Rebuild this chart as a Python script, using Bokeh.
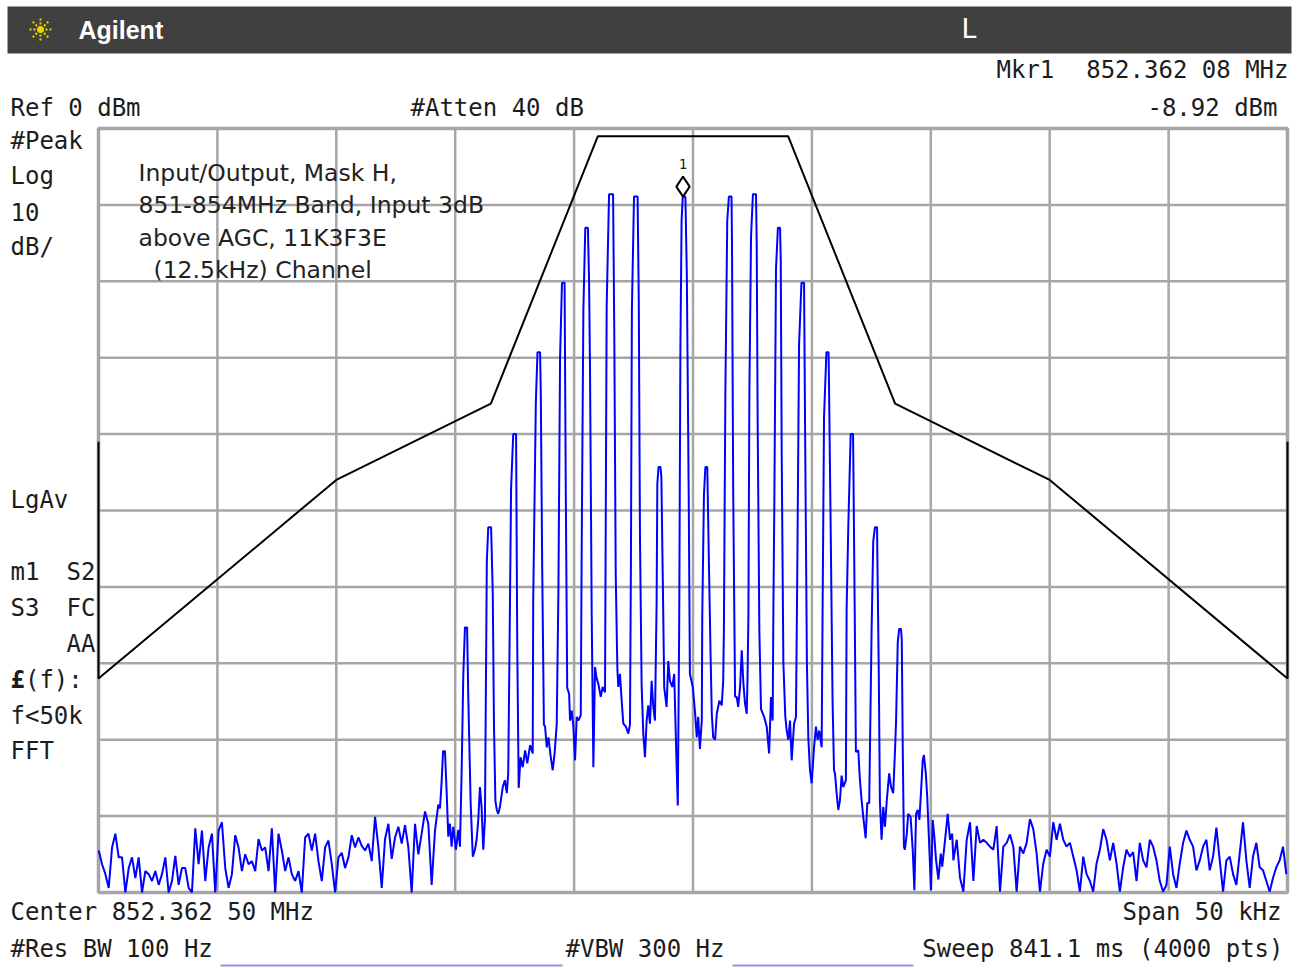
import numpy as np
from bokeh.plotting import figure
from bokeh.models import Range1d, Label
from bokeh.embed import file_html
from bokeh.resources import INLINE

# ------------------------------------------------------------------ data
center_mhz = 852.3625
span_khz = 50
marker_khz = -0.42
marker_dbm = -8.92

grid_khz = [-25, -20, -15, -10, -5, 0, 5, 10, 15, 20, 25]
grid_dbm = [0, -10, -20, -30, -40, -50, -60, -70, -80, -90, -100]

mask_khz = [-25, -25, -15, -8.5, -4, 4, 8.5, 15, 25, 25]
mask_dbm = [-41, -72, -46, -36, -1, -1, -36, -46, -72, -41]

noise_step_khz = 0.14
noise_left_start_khz = -24.99
noise_left_dbm = [
    -94.5, -96.3, -97.6, -99.4, -94.1, -92.3, -95.4, -95.4, -100, -96.8,
    -95.4, -98.1, -95.4, -100, -97.2, -97.6, -98.5, -97.2, -99.0, -97.6,
    -95.4, -100, -98.5, -95.2, -99.0, -96.8, -96.8, -99.4, -100, -91.6,
    -96.3, -91.9, -98.5, -94.1, -92.3, -100, -91.9, -90.8, -96.8, -99.4,
    -97.6, -92.5, -94.1, -97.2, -95.0, -96.3, -95.9, -97.2, -93.0, -94.5,
    -94.1, -97.2, -91.6, -100, -92.3, -94.5, -97.2, -95.4, -97.6, -98.5,
    -97.2, -100, -92.8, -92.3, -94.5, -92.3, -95.9, -98.5, -94.1, -93.2,
    -96.3, -100, -95.4, -94.8, -96.8, -95.4, -92.5, -94.1, -92.8, -93.9,
    -94.5, -93.6, -95.9, -90.1, -94.1, -99.4, -93.0, -91.0, -95.6, -92.8,
    -91.4, -93.6, -91.2, -94.1, -100, -91.0, -95.0, -92.3, -89.4, -91.0,
    -99.0, -91.9, -88.5]

core_khz = [
    -10.64, -10.58, -10.51, -10.43, -10.37, -10.29, -10.22, -10.15, -10.08, -9.97,
    -9.87, -9.80, -9.73, -9.66, -9.59, -9.50, -9.45, -9.35, -9.26, -9.17,
    -9.10, -9.03, -8.96, -8.89, -8.82, -8.75, -8.67, -8.61, -8.49, -8.42,
    -8.37, -8.31, -8.25, -8.19, -8.12, -8.00, -7.91, -7.83, -7.77, -7.72,
    -7.65, -7.56, -7.44, -7.39, -7.33, -7.25, -7.16, -7.06, -6.97, -6.85,
    -6.74, -6.72, -6.61, -6.54, -6.43, -6.40, -6.34, -6.27, -6.22, -6.15,
    -6.08, -5.98, -5.90, -5.82, -5.73, -5.66, -5.59, -5.51, -5.40, -5.35,
    -5.29, -5.21, -5.17, -5.10, -5.03, -4.96, -4.89, -4.82, -4.72, -4.68,
    -4.61, -4.53, -4.42, -4.37, -4.33, -4.26, -4.19, -4.12, -4.05, -3.98,
    -3.88, -3.80, -3.70, -3.63, -3.53, -3.36, -3.31, -3.25, -3.18, -3.14,
    -3.07, -3.00, -2.93, -2.82, -2.72, -2.65, -2.61, -2.57, -2.48, -2.33,
    -2.28, -2.23, -2.16, -2.09, -2.02, -1.95, -1.88, -1.81, -1.74, -1.67,
    -1.60, -1.53, -1.50, -1.45, -1.37, -1.33, -1.27, -1.21, -1.11, -1.04,
    -0.97, -0.87, -0.79, -0.71, -0.64, -0.58, -0.53, -0.48, -0.43, -0.32,
    -0.26, -0.18, -0.13, -0.01, 0.08, 0.16, 0.22, 0.29, 0.37, 0.39,
    0.46, 0.52, 0.60, 0.66, 0.74, 0.79, 0.85, 0.93, 1.00, 1.11,
    1.21, 1.27, 1.30, 1.36, 1.44, 1.51, 1.62, 1.64, 1.69, 1.77,
    1.84, 1.90, 1.98, 2.05, 2.12, 2.19, 2.26, 2.29, 2.33, 2.37,
    2.44, 2.52, 2.65, 2.68, 2.72, 2.79, 2.86, 2.99, 3.10, 3.20,
    3.28, 3.35, 3.38, 3.42, 3.49, 3.57, 3.66, 3.69, 3.73, 3.80,
    3.88, 3.94, 4.01, 4.08, 4.15, 4.25, 4.33, 4.39, 4.46, 4.56,
    4.67, 4.72, 4.79, 4.85, 4.92, 4.99, 5.09, 5.17, 5.24, 5.31,
    5.41, 5.45, 5.51, 5.61, 5.70, 5.72, 5.79, 5.87, 5.93, 5.97,
    6.04, 6.11, 6.18, 6.25, 6.32, 6.43, 6.46, 6.53, 6.63, 6.73,
    6.74, 6.80, 6.85, 6.95, 7.02, 7.09, 7.16, 7.26, 7.33, 7.41,
    7.51, 7.58, 7.65, 7.74, 7.75, 7.81, 7.86, 7.93, 8.00, 8.07,
    8.15, 8.25, 8.33, 8.42, 8.49, 8.54, 8.61, 8.67, 8.75, 8.78,
    8.82, 8.87, 8.91, 8.99, 9.05, 9.15, 9.24, 9.31, 9.38, 9.45,
    9.52, 9.60, 9.66, 9.71, 9.79, 9.85, 9.94, 10.01, 10.08, 10.15,
    10.22, 10.32, 10.42, 10.48, 10.60, 10.71, 10.81, 10.90]
core_dbm = [
    -89, -86, -81.5, -81.5, -86, -92.7, -91, -94, -91.4, -94.4,
    -91.8, -94, -84.4, -71.6, -65.3, -65.3, -74.4, -88.3, -95.3, -94.4,
    -93.1, -90.5, -86.2, -88.8, -94.4, -90.5, -56.7, -52.2, -52.2, -60.9,
    -78, -88, -89.2, -89.7, -88.8, -86.2, -85.3, -87, -84.4, -69.3,
    -47.1, -40, -40, -68, -86.3, -82.3, -83.6, -81.4, -83.1, -80.7,
    -81.8, -62, -36, -29.3, -29.3, -34.9, -57.9, -78, -78.3, -81,
    -79.7, -82.3, -84, -81.8, -77.9, -60.6, -30, -20.2, -20.2, -47.4,
    -73.2, -74, -77.5, -76.2, -78.3, -82.7, -77, -77.5, -76.8, -54.6,
    -23.8, -13, -13, -20, -31.9, -63.6, -83.6, -70.5, -72, -72.7,
    -74.4, -73.1, -73.8, -23.2, -8.6, -8.6, -26.8, -58.2, -70.8, -73.1,
    -71.4, -74.9, -77.9, -78.3, -79.2, -78, -56.4, -23.8, -8.9, -8.9,
    -22.6, -53.4, -72.9, -79.2, -82.3, -77.5, -75.5, -77.9, -72.3, -75.7,
    -77.5, -62.1, -46.5, -44.3, -44.3, -45.6, -59.1, -73.2, -75.7, -69.7,
    -72.3, -73.1, -71.4, -81, -88.6, -65, -29, -12, -8.92, -8.92,
    -19, -48, -71.4, -73.1, -76.2, -79.7, -77, -81.2, -77.5, -63.6,
    -48, -44.3, -44.3, -55.2, -69, -76.6, -79.7, -80, -76.6, -74.9,
    -75.5, -72.3, -65.4, -35.1, -12.1, -8.9, -8.9, -15.1, -47.4, -74.4,
    -74.4, -75.7, -73.1, -68.3, -72.7, -75.3, -76.6, -72.3, -63.9, -35.1,
    -14.2, -8.6, -8.6, -15.4, -38.7, -65.7, -76, -77, -78.3, -81.8,
    -74.4, -77.5, -63, -49.2, -18.4, -13, -13, -17.2, -42.6, -69.9,
    -76.9, -78.8, -80, -77.5, -82.7, -77.9, -77, -56.4, -28.3, -20.2,
    -20.2, -42, -69.9, -79.8, -84, -85.7, -81, -78.3, -80, -78.8,
    -81, -63, -37.8, -29.3, -29.3, -33.7, -52.5, -75, -84, -84.4,
    -87, -89.2, -87.9, -84.7, -86.2, -85.3, -63, -52.2, -40, -40,
    -42.6, -63, -81.6, -81.4, -85.3, -87.9, -90.1, -92.9, -88.3, -88.3,
    -65.7, -54, -52.2, -52.2, -55.2, -70.5, -88.1, -93.1, -88.8, -91.4,
    -87.9, -84.4, -86.2, -87, -81.8, -77.5, -67.3, -65.5, -65.5, -67,
    -81, -94, -94.4, -92.3, -89.7, -90.1, -94.4, -99.7, -89.7, -89.2,
    -90.5, -86.2, -82.7, -82, -84.4, -87.5, -94.4, -99.7, -90.5, -92.7,
    -95.7, -98.3, -94.9, -96.6, -93.1, -89.7, -93.1, -92.3]

noise_right_start_khz = 10.95
noise_right_dbm = [
    -95.8, -93.1, -98.1, -99.9, -93.1, -90.8, -98.5, -91.3, -93.5, -93.1,
    -93.5, -94.0, -94.4, -91.3, -99.9, -94.0, -93.5, -92.4, -94.0, -99.9,
    -94.0, -94.9, -93.5, -90.4, -91.7, -94.9, -99.9, -96.2, -94.4, -95.3,
    -90.8, -93.1, -91.0, -93.1, -94.0, -93.5, -95.3, -97.1, -99.9, -95.3,
    -97.6, -98.5, -99.9, -96.2, -94.4, -91.7, -93.1, -95.8, -93.5, -96.2,
    -99.9, -96.7, -94.4, -95.3, -94.7, -98.5, -93.5, -95.8, -96.7, -93.1,
    -94.0, -95.8, -98.5, -99.9, -99.0, -94.0, -97.6, -99.4, -96.2, -93.5,
    -91.9, -93.1, -94.0, -97.1, -95.8, -94.0, -93.1, -97.1, -95.3, -91.5,
    -95.8, -99.9, -95.8, -95.3, -97.6, -99.0, -94.9, -90.8, -95.8, -99.4,
    -95.3, -93.5, -96.7, -97.1, -98.5, -99.9, -98.1, -96.7, -95.8, -94.0,
    -97.6]

assert len(core_khz) == len(core_dbm)

left_khz = noise_left_start_khz + noise_step_khz * np.arange(len(noise_left_dbm))
right_khz = noise_right_start_khz + noise_step_khz * np.arange(len(noise_right_dbm))
trace_khz = np.concatenate([left_khz, core_khz, right_khz])
trace_dbm = np.concatenate([noise_left_dbm, core_dbm, noise_right_dbm])

# ------------------------------------------------------------------ layout
W, H = 1299, 968
LEFT_PX, TOP_PX = 98, 128
PX_PER_KHZ = 1189 / 50.0
PX_PER_DB = 764 / 100.0
x_start = -25 - LEFT_PX / PX_PER_KHZ
x_end = x_start + W / PX_PER_KHZ
y_end = TOP_PX / PX_PER_DB
y_start = y_end - H / PX_PER_DB


def X(px):
    return x_start + px / PX_PER_KHZ


def Y(py):
    return y_end - py / PX_PER_DB


p = figure(width=W, height=H, x_range=Range1d(x_start, x_end),
           y_range=Range1d(y_start, y_end), output_backend="svg",
           toolbar_location=None, x_axis_location=None, y_axis_location=None,
           min_border=0, outline_line_color=None,
           background_fill_color="white", border_fill_color="white")
p.xgrid.visible = False
p.ygrid.visible = False

GRID = "#a6a6a6"
p.multi_line([[k, k] for k in grid_khz[1:-1]],
             [[grid_dbm[0], grid_dbm[-1]]] * (len(grid_khz) - 2),
             line_color=GRID, line_width=2.5)
p.multi_line([[grid_khz[0], grid_khz[-1]]] * (len(grid_dbm) - 2),
             [[d, d] for d in grid_dbm[1:-1]],
             line_color=GRID, line_width=2.5)
p.quad(left=grid_khz[0], right=grid_khz[-1], top=grid_dbm[0], bottom=grid_dbm[-1],
       fill_color=None, line_color=GRID, line_width=3.5)

# header bar
p.quad(left=X(7), right=X(1291), top=Y(6), bottom=Y(53),
       fill_color="#404040", line_color=None)
p.scatter([X(40)], [Y(29)], marker="asterisk", size=22,
          line_color="#e8d400", line_width=2, line_dash="2 2")
p.scatter([X(40)], [Y(29)], marker="circle", size=7,
          fill_color="#e8d400", line_color=None)


def lab(px, py, text, size=24, align="left", color="#1c1c1c",
        font="DejaVu Sans Mono", style="normal"):
    p.add_layout(Label(x=X(px), y=Y(py), text=text, text_align=align,
                       text_baseline="middle", text_color=color,
                       text_font=font, text_font_size=f"{size}px",
                       text_font_style=style))


lab(78, 29, "Agilent", size=25, color="white", font="Liberation Sans", style="bold")
lab(969, 28, "L", size=27, color="white", align="center")

lab(996, 69, "Mkr1")
lab(1288, 69, "852.362 08 MHz", align="right")
lab(10, 107, "Ref 0 dBm")
lab(410, 107, "#Atten 40 dB")
lab(1277, 107, "-8.92 dBm", align="right")

for py, t in [(140, "#Peak"), (175, "Log"), (211, "10"), (246, "dB/"),
              (499, "LgAv"), (571, "m1"), (607, "S3"),
              (715, "f<50k"), (750, "FFT")]:
    lab(10, py, t)
lab(95, 571, "S2", align="right")
lab(95, 607, "FC", align="right")
lab(95, 643, "AA", align="right")
lab(10, 679, "£", style="bold")
lab(10 + 14.45, 679, "(f):")

lab(10, 911, "Center 852.362 50 MHz")
lab(1281, 911, "Span 50 kHz", align="right")
lab(10, 948, "#Res BW 100 Hz")
lab(565, 948, "#VBW 300 Hz")
lab(1283, 948, "Sweep 841.1 ms (4000 pts)", align="right")
p.multi_line([[X(220), X(562)], [X(732), X(913)]], [[Y(965), Y(965)]] * 2,
             line_color="#9c8ee6", line_width=2)

# annotation block
ann = ["Input/Output, Mask H,", "851-854MHz Band, Input 3dB",
       "above AGC, 11K3F3E", "(12.5kHz) Channel"]
for (px, py), t in zip([(138, 172), (138, 204), (138, 237), (153, 269)], ann):
    lab(px, py, t, size=23.5, color="#222222", font="DejaVu Sans")

# mask & trace
p.line(mask_khz, mask_dbm, line_color="black", line_width=2)
p.line(trace_khz, trace_dbm, line_color="#0000ff", line_width=2)

# marker
p.scatter([marker_khz], [marker_dbm + 10 / PX_PER_DB], marker="diamond", size=20,
          fill_color="white", line_color="black", line_width=2)
p.add_layout(Label(x=marker_khz, y=marker_dbm + 33 / PX_PER_DB, text="1",
                   text_align="center", text_baseline="middle",
                   text_font="DejaVu Sans Mono", text_font_size="14px",
                   text_color="#1c1c1c"))

open("out.html", "w").write(file_html(p, INLINE))
